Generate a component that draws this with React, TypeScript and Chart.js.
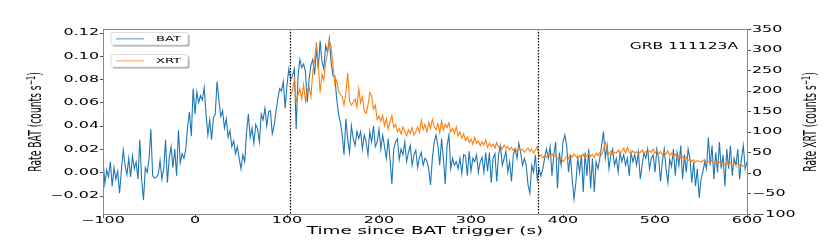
import React, { useEffect, useRef } from "react";
import { Chart, registerables } from "chart.js";

Chart.register(...registerables);

// ---------- data ----------
const BAT_START = -100; // s, first bin
const BAT_STEP = 2; // s, bin width
const batRate = [
  0.011, -0.01, 0.002, -0.004, 0.009, -0.012, 0.004, -0.006, 0.001, -0.018,
  0.002, 0.019, 0.006, -0.002, 0.012, -0.004, 0.014, 0.003, 0.009, -0.006,
  0.028, -0.006, -0.024, 0.004, 0.0, 0.011, 0.037, -0.003, -0.005, -0.004,
  -0.002, 0.01, -0.006, 0.003, 0.028, -0.009, 0.012, 0.022, 0.004, 0.02,
  -0.003, 0.036, 0.008, 0.016, 0.012, 0.02, 0.039, 0.052, 0.031, 0.072,
  0.05, 0.069, 0.06, 0.066, 0.062, 0.073, 0.05, 0.032, 0.045, 0.028,
  0.047, 0.05, 0.078, 0.062, 0.048, 0.053, 0.038, 0.046, 0.03, 0.036,
  0.022, 0.027, 0.016, 0.022, 0.012, 0.003, 0.015, 0.009, 0.034, 0.05,
  0.03, 0.038, 0.025, 0.041, 0.037, 0.026, 0.05, 0.045, 0.055, 0.04,
  0.052, 0.053, 0.033, 0.04, 0.052, 0.063, 0.072, 0.07, 0.078, 0.055,
  0.075, 0.089, 0.08, 0.083, 0.089, 0.037, 0.083, 0.097, 0.09, 0.093,
  0.087, 0.06, 0.08, 0.092, 0.097, 0.084, 0.106, 0.089, 0.113, 0.095,
  0.089, 0.109, 0.103, 0.115, 0.094, 0.083, 0.083, 0.063, 0.05, 0.043,
  0.032, 0.015, 0.046, 0.028, 0.017, 0.04, 0.029, 0.023, 0.035, 0.029,
  0.035, 0.02, 0.032, 0.026, 0.015, 0.035, 0.026, 0.04, 0.022, 0.026,
  0.037, 0.02, 0.032, 0.022, 0.012, 0.029, 0.011, -0.01, 0.02, 0.026,
  0.029, 0.011, 0.02, 0.015, 0.026, 0.009, 0.017, 0.023, 0.006, 0.015,
  0.019, 0.004, 0.013, 0.017, 0.006, 0.012, 0.01, 0.003, -0.011, 0.012,
  0.026, 0.032, 0.023, 0.006, 0.029, 0.012, -0.01, 0.023, 0.032, 0.003,
  0.012, 0.006, 0.009, 0.003, 0.012, -0.001, 0.015, 0.014, -0.003, 0.018,
  0.001, 0.012, 0.009, 0.015, 0.0, 0.009, 0.013, 0.0, 0.017, 0.001,
  0.017, -0.009, 0.012, 0.016, -0.008, 0.015, 0.023, 0.006, 0.012, 0.018,
  0.0, 0.009, -0.008, 0.015, 0.02, 0.012, 0.025, 0.017, 0.006, 0.012,
  0.006, -0.011, -0.018, 0.006, 0.0, 0.015, -0.006, 0.003, -0.003, 0.003,
  0.012, 0.02, 0.012, 0.022, -0.003, 0.015, 0.026, -0.014, 0.017, 0.006,
  0.026, 0.032, 0.023, 0.0, 0.015, -0.006, -0.023, -0.009, 0.012, 0.0,
  0.015, -0.017, 0.017, -0.003, 0.02, -0.014, 0.012, -0.017, 0.009, 0.003,
  0.012, 0.023, 0.035, 0.012, 0.023, 0.003, 0.015, 0.02, 0.006, 0.012,
  0.0, 0.017, 0.009, 0.015, 0.006, 0.012, -0.003, 0.017, 0.009, 0.015,
  0.006, 0.017, -0.006, 0.006, 0.017, 0.012, 0.02, 0.003, 0.012, 0.015,
  0.0, 0.02, 0.012, -0.008, 0.009, 0.02, 0.003, -0.009, 0.011, 0.005,
  0.02, -0.003, 0.017, 0.006, 0.023, -0.006, 0.015, 0.0, 0.02, 0.012,
  -0.009, 0.009, -0.012, 0.003, -0.022, -0.006, 0.0, 0.009, 0.003, 0.03,
  0.006, 0.023, -0.006, 0.017, 0.0, 0.026, 0.003, 0.015, -0.012, 0.02,
  0.003, 0.023, -0.003, 0.012, 0.006, 0.02, -0.006, 0.012, 0.023, 0.003,
  0.009,
];

const XRT_START = 104; // s, first bin
const XRT_STEP = 2; // s, bin width
const xrtRate = [
  190, 200, 228, 175, 190, 205, 180, 215,
  175, 200, 210, 185, 245, 275, 318, 260, 195, 240,
  225, 270, 290, 322, 305, 260, 215, 225, 200, 190,
  185, 165, 195, 243, 175, 165, 172, 180, 160, 204,
  170, 185, 150, 145, 165, 195, 187, 155, 165, 130,
  138, 125, 140, 115, 132, 106, 125, 139, 110, 118,
  100, 108, 95, 112, 102, 90, 105, 96, 110, 92,
  100, 112, 98, 128, 105, 118, 100, 122, 108, 130,
  112, 105, 120, 98, 126, 104, 118, 110, 122, 100,
  108, 96, 112, 90, 100, 84, 95, 78, 88, 74,
  82, 70, 86, 72, 78, 66, 76, 68, 80, 62,
  72, 64, 70, 60, 74, 62, 66, 58, 68, 60,
  64, 56, 62, 55, 60, 52, 62, 54, 58, 50,
  56, 60, 52, 58, 48, 55, 64, 40, 44, 36,
  42, 38, 45, 40, 46, 38, 44, 35, 30, 36,
  27, 33, 40, 35, 44, 38, 46, 40, 34, 42,
  38, 46, 36, 42, 48, 40, 45, 38, 48, 42,
  50, 44, 58, 74, 55, 46, 52, 44, 50, 48,
  55, 46, 52, 60, 48, 62, 50, 46, 54, 48,
  52, 45, 50, 56, 46, 52, 48, 54, 50, 58,
  48, 54, 46, 52, 44, 50, 46, 54, 42, 48,
  40, 46, 38, 42, 36, 40, 34, 38, 30, 34,
  28, 32, 26, 30, 28, 26, 30, 32, 24, 28,
  26, 30, 22, 28, 24, 26, 22, 24, 20, 26,
  20, 24, 18, 22, 20, 24, 18, 20, 16, 19,
  17,
];

const markerTimes = [103, 373];
const xTicks = [-100, 0, 100, 200, 300, 400, 500, 600];
const leftTicks = [-0.02, 0, 0.02, 0.04, 0.06, 0.08, 0.1, 0.12];
const rightTicks = [-100, -50, 0, 50, 100, 150, 200, 250, 300, 350];
const seriesNames = ["BAT", "XRT"];
const grbName = "GRB 111123A";
const xTitle = "Time since BAT trigger (s)";
const leftTitle = "Rate BAT (counts s";
const rightTitle = "Rate XRT (counts s";

// ---------- style ----------
const SX = 1.87;
const FONT = '"DejaVu Sans", sans-serif';
const BLUE = "#1f77b4";
const ORANGE = "#ff7f0e";

function minus(s: string) {
  return s.replace("-", "\u2212");
}

function sText(
  ctx: CanvasRenderingContext2D,
  s: string,
  x: number,
  y: number,
  size: number,
  align: CanvasTextAlign,
  baseline: CanvasTextBaseline
) {
  ctx.save();
  ctx.translate(x, y);
  ctx.scale(SX, 1);
  ctx.font = `${size}px ${FONT}`;
  ctx.textAlign = align;
  ctx.textBaseline = baseline;
  ctx.fillStyle = "#000";
  ctx.fillText(s, 0, 0);
  ctx.restore();
}

function rotTitle(ctx: CanvasRenderingContext2D, main: string, bx: number, cy: number, f: number) {
  ctx.save();
  ctx.translate(bx, cy);
  ctx.scale(SX, 1);
  ctx.rotate(-Math.PI / 2);
  ctx.fillStyle = "#000";
  ctx.textBaseline = "alphabetic";
  ctx.textAlign = "left";
  const big = `${f}px ${FONT}`;
  const small = `${f * 0.7}px ${FONT}`;
  ctx.font = big;
  const w1 = ctx.measureText(main).width;
  const w3 = ctx.measureText(")").width;
  ctx.font = small;
  const sup = "\u22121";
  const w2 = ctx.measureText(sup).width;
  const total = w1 + w2 + w3;
  let x = -total / 2;
  ctx.font = big;
  ctx.fillText(main, x, 0);
  x += w1;
  ctx.font = small;
  ctx.fillText(sup, x, -0.36 * f);
  x += w2;
  ctx.font = big;
  ctx.fillText(")", x, 0);
  ctx.restore();
}

function roundRect(ctx: CanvasRenderingContext2D, x: number, y: number, w: number, h: number, r: number) {
  ctx.beginPath();
  ctx.moveTo(x + r, y);
  ctx.lineTo(x + w - r, y);
  ctx.quadraticCurveTo(x + w, y, x + w, y + r);
  ctx.lineTo(x + w, y + h - r);
  ctx.quadraticCurveTo(x + w, y + h, x + w - r, y + h);
  ctx.lineTo(x + r, y + h);
  ctx.quadraticCurveTo(x, y + h, x, y + h - r);
  ctx.lineTo(x, y + r);
  ctx.quadraticCurveTo(x, y, x + r, y);
  ctx.closePath();
}

const overlay = {
  id: "overlay",
  afterDatasetsDraw(chart: any) {
    const ctx: CanvasRenderingContext2D = chart.ctx;
    const a = chart.chartArea;
    const xs = chart.scales.x;
    const yl = chart.scales.y;
    const yr = chart.scales.y1;
    ctx.save();

    // vertical dotted markers
    ctx.strokeStyle = "#000";
    ctx.lineWidth = 1.2;
    ctx.setLineDash([1.6, 1.4]);
    for (const t of markerTimes) {
      const px = Math.round(xs.getPixelForValue(t)) + 0.5;
      ctx.beginPath();
      ctx.moveTo(px, a.top);
      ctx.lineTo(px, a.bottom);
      ctx.stroke();
    }
    ctx.setLineDash([]);

    // frame
    ctx.strokeStyle = "#8a8a8a";
    ctx.lineWidth = 1;
    ctx.strokeRect(a.left + 0.5, a.top + 0.5, a.right - a.left, a.bottom - a.top);

    // ticks
    ctx.strokeStyle = "#555";
    ctx.beginPath();
    for (const v of xTicks) {
      const px = Math.round(xs.getPixelForValue(v)) + 0.5;
      ctx.moveTo(px, a.bottom + 1);
      ctx.lineTo(px, a.bottom + 4);
    }
    for (const v of leftTicks) {
      const py = Math.round(yl.getPixelForValue(v)) + 0.5;
      ctx.moveTo(a.left - 3, py);
      ctx.lineTo(a.left, py);
    }
    for (const v of rightTicks) {
      const py = Math.round(yr.getPixelForValue(v)) + 0.5;
      ctx.moveTo(a.right + 1, py);
      ctx.lineTo(a.right + 4, py);
    }
    ctx.stroke();

    const tf = 8.5;
    for (const v of xTicks) {
      sText(ctx, minus(String(v)), xs.getPixelForValue(v), 221, tf, "center", "middle");
    }
    for (const v of leftTicks) {
      sText(ctx, minus(v.toFixed(2)), a.left - 4, yl.getPixelForValue(v) + 0.5, tf, "right", "middle");
    }
    for (const v of rightTicks) {
      sText(ctx, minus(String(v)), a.right + 5, yr.getPixelForValue(v) + 0.5, tf, "left", "middle");
    }

    // titles
    sText(ctx, xTitle, (a.left + a.right) / 2, 233.5, 9.8, "center", "alphabetic");
    rotTitle(ctx, leftTitle, 41, 122, 9.2);
    rotTitle(ctx, rightTitle, 816, 122, 9.2);
    sText(ctx, grbName, 738, 47, 8.3, "right", "middle");

    // legends (two separate boxes)
    const boxes = [
      { y: 32.5, color: "#78acd8", name: seriesNames[0] },
      { y: 54.5, color: "#ffb37a", name: seriesNames[1] },
    ];
    for (const b of boxes) {
      const bx = 111;
      const bw = 77;
      const bh = 12.5;
      ctx.fillStyle = "rgba(0,0,0,0.35)";
      roundRect(ctx, bx + 1.5, b.y + 1.5, bw, bh, 2);
      ctx.fill();
      ctx.fillStyle = "#fff";
      roundRect(ctx, bx, b.y, bw, bh, 2);
      ctx.fill();
      ctx.strokeStyle = "#d6d6d6";
      ctx.lineWidth = 0.8;
      ctx.stroke();
      ctx.strokeStyle = b.color;
      ctx.lineWidth = 1.3;
      ctx.beginPath();
      ctx.moveTo(116, b.y + 6.3);
      ctx.lineTo(144, b.y + 6.3);
      ctx.stroke();
      sText(ctx, b.name, 156, b.y + 6.5, 7, "left", "middle");
    }

    ctx.restore();
  },
};

export default function App() {
  const ref = useRef<HTMLCanvasElement>(null);
  useEffect(() => {
    if (!ref.current) return;
    const batPts = batRate.map((v, i) => ({ x: BAT_START + i * BAT_STEP, y: v }));
    const xrtPts = xrtRate.map((v, i) => ({ x: XRT_START + i * XRT_STEP, y: v }));
    const hidden = {
      grid: { display: false },
      border: { display: false },
      ticks: { display: false },
    };
    const chart = new Chart(ref.current, {
      type: "line",
      data: {
        datasets: [
          {
            label: seriesNames[0],
            data: batPts,
            borderColor: BLUE,
            borderWidth: 1.1,
            pointRadius: 0,
            tension: 0,
            yAxisID: "y",
            order: 2,
          },
          {
            label: seriesNames[1],
            data: xrtPts,
            borderColor: ORANGE,
            borderWidth: 1.1,
            pointRadius: 0,
            tension: 0,
            yAxisID: "y1",
            order: 1,
          },
        ],
      },
      options: {
        animation: false,
        responsive: false,
        layout: { padding: { top: 29, left: 0, right: 0, bottom: 0 } },
        plugins: { legend: { display: false }, tooltip: { enabled: false } },
        scales: {
          x: {
            type: "linear",
            min: -100,
            max: 600,
            ...hidden,
            afterFit: (s: any) => {
              s.height = 31;
            },
          },
          y: {
            type: "linear",
            position: "left",
            min: -0.0359,
            max: 0.1232,
            ...hidden,
            afterFit: (s: any) => {
              s.width = 103;
            },
          },
          y1: {
            type: "linear",
            position: "right",
            min: -100,
            max: 350,
            ...hidden,
            afterFit: (s: any) => {
              s.width = 83;
            },
          },
        },
      } as any,
      plugins: [overlay],
    });
    return () => chart.destroy();
  }, []);
  return (
    <div style={{ position: "fixed", left: 0, top: 0, width: 830, height: 245, background: "#fff" }}>
      <canvas ref={ref} width={830} height={245} style={{ display: "block" }} />
    </div>
  );
}
